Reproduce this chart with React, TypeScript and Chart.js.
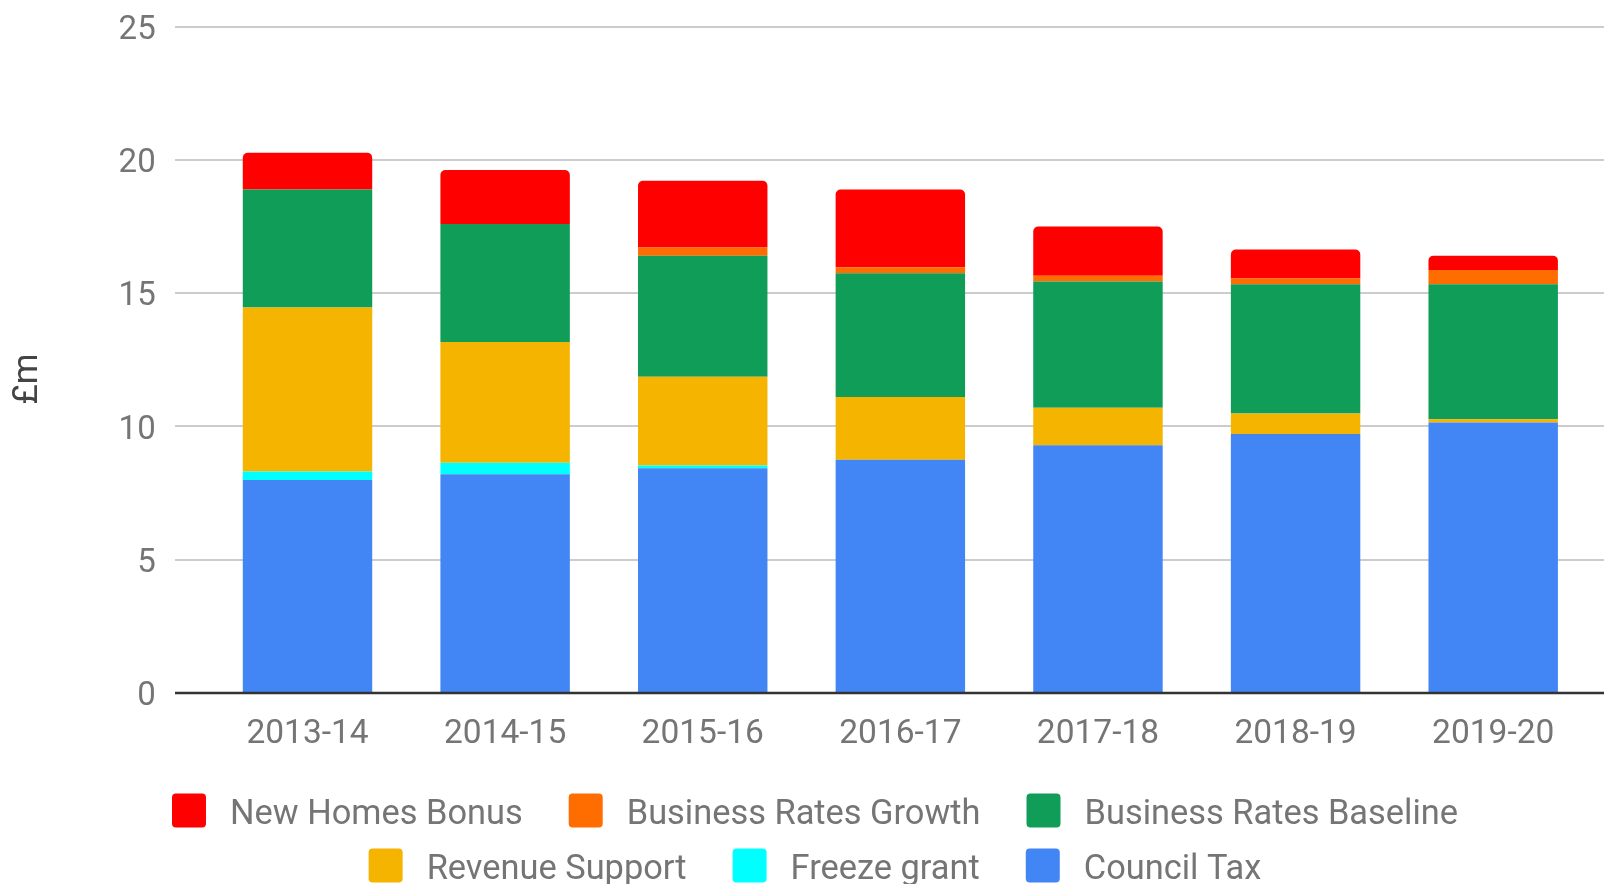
import React, { useEffect, useRef } from "react";
import { Chart, registerables } from "chart.js";

Chart.register(...registerables);

const categories = ["2013-14", "2014-15", "2015-16", "2016-17", "2017-18", "2018-19", "2019-20"];
const councilTax = [7.99, 8.21, 8.43, 8.75, 9.3, 9.72, 10.15];
const freezeGrant = [0.32, 0.43, 0.11, 0, 0, 0, 0];
const revenueSupport = [6.15, 4.53, 3.33, 2.36, 1.4, 0.77, 0.12];
const businessRatesBaseline = [4.43, 4.43, 4.54, 4.64, 4.74, 4.85, 5.07];
const businessRatesGrowth = [0, 0, 0.31, 0.22, 0.22, 0.21, 0.53];
const newHomesBonus = [1.38, 2.02, 2.5, 2.92, 1.84, 1.09, 0.54];
const yTicks = [0, 5, 10, 15, 20, 25];
const yTitle = "£m";

const W = 1604;
const H = 884;
const FONT = "Roboto";
const TEXT = "#757575";
const AREA_TOP = 26.7;
const AREA_BOTTOM = 693;
const AREA_LEFT = 208.7;

const decor = {
  id: "decor",
  beforeDatasetsDraw(chart: any) {
    const { ctx } = chart;
    const y = chart.scales.y;
    ctx.save();
    ctx.strokeStyle = "#cccccc";
    ctx.lineWidth = 2;
    yTicks.forEach((v) => {
      if (v === 0) return;
      const py = Math.round(y.getPixelForValue(v));
      ctx.beginPath();
      ctx.moveTo(175, py);
      ctx.lineTo(W, py);
      ctx.stroke();
    });
    ctx.restore();
  },
  afterDatasetsDraw(chart: any) {
    const { ctx } = chart;
    const y = chart.scales.y;
    const py = y.getPixelForValue(0);
    ctx.save();
    ctx.strokeStyle = "#333333";
    ctx.lineWidth = 2.5;
    ctx.beginPath();
    ctx.moveTo(175, py);
    ctx.lineTo(W, py);
    ctx.stroke();
    ctx.restore();
  },
  afterDraw(chart: any) {
    const { ctx } = chart;
    // y axis title
    ctx.save();
    ctx.fillStyle = "#444444";
    ctx.font = `35px ${FONT}`;
    ctx.textAlign = "center";
    ctx.textBaseline = "middle";
    ctx.translate(28, 379);
    ctx.rotate(-Math.PI / 2);
    ctx.fillText(yTitle, 0, 0);
    ctx.restore();

    // legend
    ctx.save();
    ctx.font = `34.4px ${FONT}`;
    const items = chart.data.datasets
      .map((d: any) => ({ label: d.label, color: d.backgroundColor }))
      .reverse();
    const box = 34;
    const gapText = 24;
    const gapItem = 46;
    const maxRow = 1340;
    const rows: any[][] = [[]];
    let rowW = 0;
    items.forEach((it: any) => {
      const w = box + gapText + ctx.measureText(it.label).width;
      it.w = w;
      const add = rows[rows.length - 1].length ? gapItem + w : w;
      if (rowW + add > maxRow && rows[rows.length - 1].length) {
        rows.push([it]);
        rowW = w;
      } else {
        rows[rows.length - 1].push(it);
        rowW += add;
      }
    });
    const centerX = 815;
    const rowTop = [793.5, 848.5];
    rows.forEach((row, ri) => {
      const total = row.reduce((s: number, it: any, i: number) => s + it.w + (i ? gapItem : 0), 0);
      let x = centerX - total / 2;
      const top = rowTop[ri] ?? rowTop[0] + ri * 55;
      row.forEach((it: any) => {
        ctx.fillStyle = it.color;
        ctx.beginPath();
        (ctx as any).roundRect(x, top, box, box, 4);
        ctx.fill();
        ctx.fillStyle = TEXT;
        ctx.textAlign = "left";
        ctx.textBaseline = "alphabetic";
        ctx.fillText(it.label, x + box + gapText, top + 30);
        x += it.w + gapItem;
      });
    });
    ctx.restore();
  },
};

export default function App() {
  const ref = useRef<HTMLCanvasElement>(null);
  useEffect(() => {
    if (!ref.current) return;
    Chart.defaults.font.family = FONT;
    const chart = new Chart(ref.current, {
      type: "bar",
      data: {
        labels: categories,
        datasets: [
          { label: "Council Tax", data: councilTax, backgroundColor: "#4285f4" },
          { label: "Freeze grant", data: freezeGrant, backgroundColor: "#00ffff" },
          { label: "Revenue Support", data: revenueSupport, backgroundColor: "#f4b400" },
          { label: "Business Rates Baseline", data: businessRatesBaseline, backgroundColor: "#0f9d58" },
          { label: "Business Rates Growth", data: businessRatesGrowth, backgroundColor: "#ff6d00" },
          {
            label: "New Homes Bonus",
            data: newHomesBonus,
            backgroundColor: "#ff0000",
            borderRadius: { topLeft: 5, topRight: 5, bottomLeft: 0, bottomRight: 0 },
            borderSkipped: false,
          },
        ],
      },
      options: {
        animation: false,
        responsive: false,
        devicePixelRatio: 1,
        datasets: { bar: { barPercentage: 0.655, categoryPercentage: 1 } },
        layout: { padding: { left: 0, right: 12, top: AREA_TOP, bottom: 0 } },
        plugins: { legend: { display: false }, tooltip: { enabled: false } },
        scales: {
          x: {
            stacked: true,
            grid: { display: false, drawTicks: false },
            border: { display: false },
            ticks: { color: TEXT, font: { size: 33.5, family: FONT }, padding: 22, maxRotation: 0 },
            afterFit: (s: any) => {
              s.height = H - AREA_BOTTOM;
              s.paddingLeft = 0;
              s.paddingRight = 0;
            },
          },
          y: {
            stacked: true,
            min: 0,
            max: 25,
            grid: { display: false, drawTicks: false },
            border: { display: false },
            ticks: { stepSize: 5, color: TEXT, font: { size: 33, family: FONT }, padding: 53, labelOffset: 4 },
            afterFit: (s: any) => {
              s.width = AREA_LEFT;
              s.paddingTop = 0;
              s.paddingBottom = 0;
            },
          },
        },
      },
      plugins: [decor],
    });
    return () => chart.destroy();
  }, []);
  return (
    <div style={{ position: "fixed", left: 0, top: 0, width: W, height: H, background: "#fff" }}>
      <canvas ref={ref} width={W} height={H} style={{ width: W, height: H, display: "block" }} />
    </div>
  );
}
